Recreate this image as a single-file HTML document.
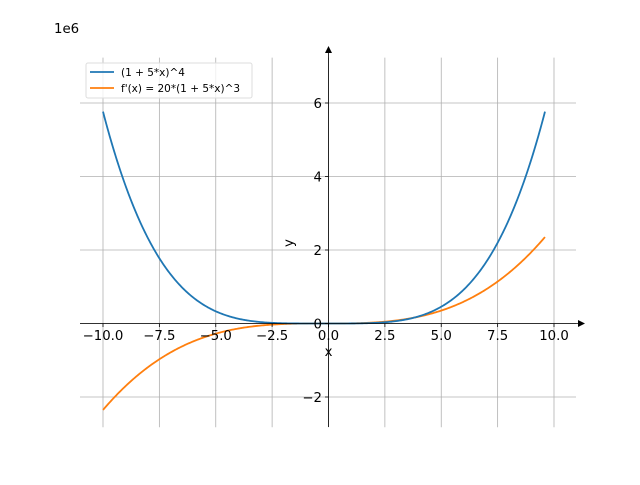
<!DOCTYPE html>
<html><head><meta charset="utf-8"><style>
body{margin:0;background:#fff}
svg text{font-family:"DejaVu Sans","Liberation Sans",sans-serif;fill:#000}
</style></head><body>
<svg id="s" width="640" height="480" viewBox="0 0 640 480" xmlns="http://www.w3.org/2000/svg">
<rect width="640" height="480" fill="#fff"/>
<g id="grid" stroke="#b0b0b0" stroke-width="0.8"></g>
<path id="p2" fill="none" stroke="#ff7f0e" stroke-width="1.8"/>
<path id="p1" fill="none" stroke="#1f77b4" stroke-width="1.8"/>
<g stroke="#000" stroke-width="0.8">
<line x1="80" y1="323.5" x2="580" y2="323.5"/>
<line x1="328.5" y1="427" x2="328.5" y2="52"/>
</g>
<polygon points="585,323.5 578,320 578,327" fill="#000"/>
<polygon points="328.5,46 325,53 332,53" fill="#000"/>
<g id="ticks" stroke="#000" stroke-width="0.8"></g>
<g id="labels" font-size="13.3"></g>
<text x="54" y="33" font-size="13.3">1e6</text>
<text x="328.5" y="356" font-size="13.3" text-anchor="middle">x</text>
<text x="293" y="243" font-size="13.3" text-anchor="middle" transform="rotate(-90 293 243)">y</text>
<rect x="86" y="63" width="166" height="35" fill="#fff" fill-opacity="0.8" stroke="#ddd" rx="2"/>
<line x1="90" y1="72" x2="114" y2="72" stroke="#1f77b4" stroke-width="1.8"/>
<line x1="90" y1="88" x2="114" y2="88" stroke="#ff7f0e" stroke-width="1.8"/>
<text x="121" y="76" font-size="10.5">(1 + 5*x)^4</text>
<text x="121" y="92" font-size="10.5">f'(x) = 20*(1 + 5*x)^3</text>
</svg>
<script>
var X=function(x){return 328.5+x*22.55},Y=function(y){return 323.5-y*36.75/1e6};
var d1="",d2="";
for(var i=0;i<=400;i++){var x=-10+19.6*i/400;var a=Math.pow(1+5*x,4),b=20*Math.pow(1+5*x,3);
d1+=(i?"L":"M")+X(x).toFixed(2)+","+Y(a).toFixed(2);d2+=(i?"L":"M")+X(x).toFixed(2)+","+Y(b).toFixed(2);}
document.getElementById("p1").setAttribute("d",d1);document.getElementById("p2").setAttribute("d",d2);
var g="",t="",l="";
[-10,-7.5,-5,-2.5,0,2.5,5,7.5,10].forEach(function(v){var x=X(v);
g+='<line x1="'+x+'" y1="57.6" x2="'+x+'" y2="427.2"/>';
t+='<line x1="'+x+'" y1="323.5" x2="'+x+'" y2="327"/>';
l+='<text x="'+x+'" y="340" text-anchor="middle">'+(v<0?"\u2212":"")+Math.abs(v).toFixed(1)+'</text>';});
[-2,0,2,4,6].forEach(function(v){var y=Y(v*1e6);
g+='<line x1="80" y1="'+y+'" x2="576" y2="'+y+'"/>';
t+='<line x1="325" y1="'+y+'" x2="328.5" y2="'+y+'"/>';
l+='<text x="322" y="'+(y+5)+'" text-anchor="end">'+(v<0?"\u2212":"")+Math.abs(v)+'</text>';});
document.getElementById("grid").innerHTML=g;document.getElementById("ticks").innerHTML=t;document.getElementById("labels").innerHTML=l;
</script>
</body></html>
